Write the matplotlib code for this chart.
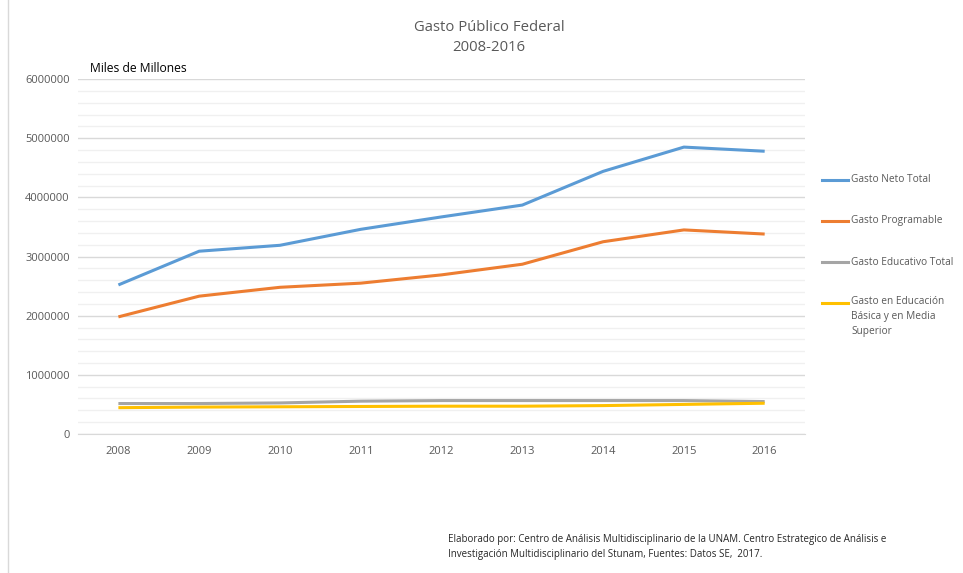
import matplotlib
matplotlib.use("Agg")
import matplotlib.pyplot as plt
from matplotlib.lines import Line2D
from matplotlib.ticker import MultipleLocator, FuncFormatter

plt.rcParams["font.family"] = ["Open Sans", "DejaVu Sans"]

years = [2008, 2009, 2010, 2011, 2012, 2013, 2014, 2015, 2016]
gasto_neto = [2520000, 3090000, 3190000, 3460000, 3670000, 3870000, 4440000, 4850000, 4780000]
gasto_prog = [1980000, 2330000, 2480000, 2550000, 2690000, 2870000, 3250000, 3450000, 3380000]
gasto_educ = [515000, 515000, 525000, 555000, 565000, 565000, 565000, 565000, 548000]
gasto_basica = [445000, 455000, 460000, 465000, 470000, 470000, 480000, 500000, 520000]

series = [
    ("Gasto Neto Total", gasto_neto, "#5B9BD5"),
    ("Gasto Programable", gasto_prog, "#ED7D31"),
    ("Gasto Educativo Total", gasto_educ, "#A5A5A5"),
    ("Gasto en Educación\nBásica y en Media\nSuperior", gasto_basica, "#FFC000"),
]

fig = plt.figure(figsize=(9.63, 5.73), dpi=100)
ax = fig.add_axes([0.081, 0.2426, 0.755, 0.6194])

for label, vals, color in series:
    ax.plot(years, vals, color=color, linewidth=2.2, solid_capstyle="butt")

ax.set_xlim(2007.5, 2016.5)
ax.set_ylim(0, 6000000)
ax.yaxis.set_major_locator(MultipleLocator(1000000))
ax.yaxis.set_minor_locator(MultipleLocator(200000))
ax.yaxis.set_major_formatter(FuncFormatter(lambda v, p: f"{int(round(v))}"))
ax.set_xticks(years)
ax.grid(which="major", axis="y", color="#D9D9D9", linewidth=1)
ax.grid(which="minor", axis="y", color="#F0F0F0", linewidth=1)
ax.set_axisbelow(True)
for s in ["top", "right", "left"]:
    ax.spines[s].set_visible(False)
ax.spines["bottom"].set_color("#D9D9D9")
ax.tick_params(axis="both", which="both", length=0, labelsize=8, colors="#595959")
ax.tick_params(axis="x", pad=9)
ax.tick_params(axis="y", pad=6)

fig.text(0.508, 0.952, "Gasto Público Federal", ha="center", va="center",
         fontsize=10.7, color="#595959")
fig.text(0.508, 0.917, "2008-2016", ha="center", va="center",
         fontsize=10.7, color="#595959")
fig.text(0.093, 0.881, "Miles de Millones", ha="left", va="center",
         fontsize=8.7, color="#000000")

# legend on the right
leg_y = [180, 221, 262, 303]
for (label, vals, color), py in zip(series, leg_y):
    yf = 1 - py / 573
    fig.add_artist(Line2D([822 / 963, 848 / 963], [yf, yf], color=color,
                          linewidth=2.2, transform=fig.transFigure))
    if "\n" in label:
        fig.text(851 / 963, yf + 0.013, label, ha="left", va="top",
                 fontsize=7.3, color="#595959", linespacing=1.5)
    else:
        fig.text(851 / 963, yf, label, ha="left", va="center",
                 fontsize=7.3, color="#595959")

fig.text(448 / 963, 1 - 547 / 573,
         "Elaborado por: Centro de Análisis Multidisciplinario de la UNAM. Centro Estrategico de Análisis e\n"
         "Investigación Multidisciplinario del Stunam, Fuentes: Datos SE,  2017.",
         ha="left", va="center", fontsize=7.0, color="#262626", linespacing=1.6)

# left frame line of the original screenshot
fig.add_artist(Line2D([8 / 963, 8 / 963], [0, 1], color="#D9D9D9", linewidth=1,
                      transform=fig.transFigure))

fig.savefig("out.png", dpi=100)
